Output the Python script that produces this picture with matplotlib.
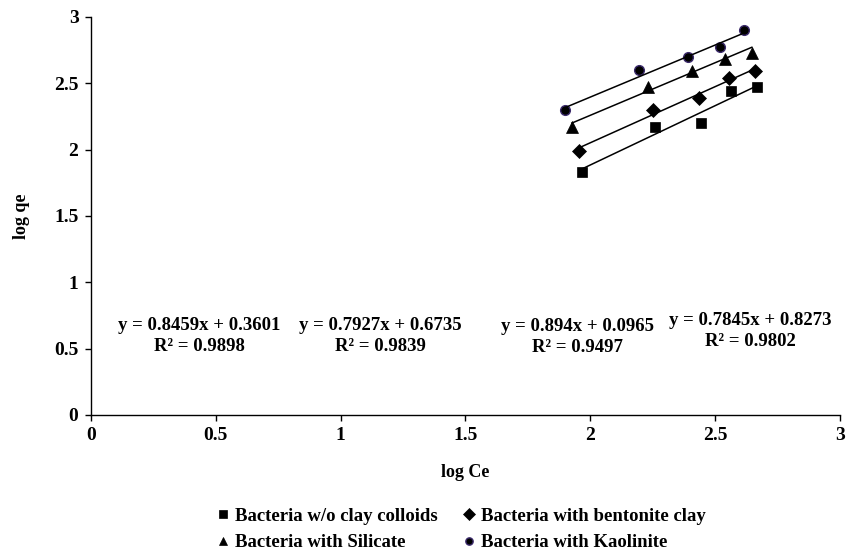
import numpy as np
import matplotlib
matplotlib.use("Agg")
import matplotlib.pyplot as plt

plt.rcParams['font.family'] = ['Liberation Serif', 'DejaVu Serif']
plt.rcParams['font.weight'] = 'bold'

# data
x_plain = [1.965, 2.261, 2.445, 2.562, 2.666]
y_plain = [1.83, 2.17, 2.20, 2.44, 2.47]
x_bent = [1.954, 2.251, 2.435, 2.555, 2.659]
y_bent = [1.99, 2.30, 2.39, 2.54, 2.59]
x_sil = [1.926, 2.231, 2.407, 2.539, 2.647]
y_sil = [2.17, 2.47, 2.59, 2.68, 2.73]
x_kao = [1.898, 2.195, 2.391, 2.520, 2.615]
y_kao = [2.30, 2.60, 2.70, 2.77, 2.90]

labels = ['Bacteria w/o clay colloids', 'Bacteria with bentonite clay',
          'Bacteria with Silicate', 'Bacteria with Kaolinite']
# trendline equations shown on the chart
slopes = [0.894, 0.8459, 0.7927, 0.7845]
intercepts = [0.0965, 0.3601, 0.6735, 0.8273]
slope_txt = ['0.894', '0.8459', '0.7927', '0.7845']
icpt_txt = ['0.0965', '0.3601', '0.6735', '0.8273']
r2_txt = ['0.9497', '0.9898', '0.9839', '0.9802']
# where each equation label sits (data coords, centre)
eq_pos = [(1.95, 0.585), (0.435, 0.595), (1.16, 0.595), (2.64, 0.63)]

fig = plt.figure(figsize=(8.56, 5.55), dpi=100)
ax = fig.add_axes([0.1063, 0.2523, 0.875, 0.7171])

series = [(x_plain, y_plain, 's', 7.5), (x_bent, y_bent, 'D', 7.5),
          (x_sil, y_sil, '^', 8.5), (x_kao, y_kao, 'o', 7)]
handles = []
for i, (xs, ys, m, ms) in enumerate(series):
    ec = '#3b2a6b' if m == 'o' else 'black'
    h, = ax.plot(xs, ys, linestyle='none', marker=m, markersize=ms,
                 markerfacecolor='black', markeredgecolor=ec,
                 markeredgewidth=1.0 if m == 'o' else 0.5, label=labels[i])
    handles.append(h)
    xl = np.array([min(xs), max(xs)])
    ax.plot(xl, slopes[i] * xl + intercepts[i], color='black', lw=1.1)
    tx, ty = eq_pos[i]
    ax.text(tx, ty, f'y = {slope_txt[i]}x + {icpt_txt[i]}\nR² = {r2_txt[i]}',
            ha='center', va='center', fontsize=13.5, fontweight='bold',
            linespacing=1.3, multialignment='center')

ax.set_xlim(0, 3)
ax.set_ylim(0, 3)
ax.set_xticks(np.arange(0, 3.01, 0.5))
ax.set_yticks(np.arange(0, 3.01, 0.5))
ax.set_xticklabels(['0', '0.5', '1', '1.5', '2', '2.5', '3'])
ax.set_yticklabels(['0', '0.5', '1', '1.5', '2', '2.5', '3'])
ax.tick_params(direction='out', length=4.5, width=1, labelsize=14, pad=4.5)
for lab in ax.get_xticklabels() + ax.get_yticklabels():
    lab.set_fontweight('bold')
ax.spines['top'].set_visible(False)
ax.spines['right'].set_visible(False)
ax.spines['left'].set_linewidth(1)
ax.spines['bottom'].set_linewidth(1)

ax.set_xlabel('log Ce', fontsize=13, fontweight='bold', labelpad=14)
ax.set_ylabel('log qe', fontsize=13, fontweight='bold', labelpad=17)

leg_order = [0, 2, 1, 3]
leg = fig.legend([handles[k] for k in leg_order], [labels[k] for k in leg_order],
                 ncol=2, frameon=False, loc='center', bbox_to_anchor=(0.54, 0.046),
                 prop={'family': 'Liberation Serif', 'weight': 'bold', 'size': 13.5},
                 markerscale=0.75, handlelength=0.5, handletextpad=0.4,
                 columnspacing=1.4, labelspacing=0.5)

fig.savefig('out.png', dpi=100)
